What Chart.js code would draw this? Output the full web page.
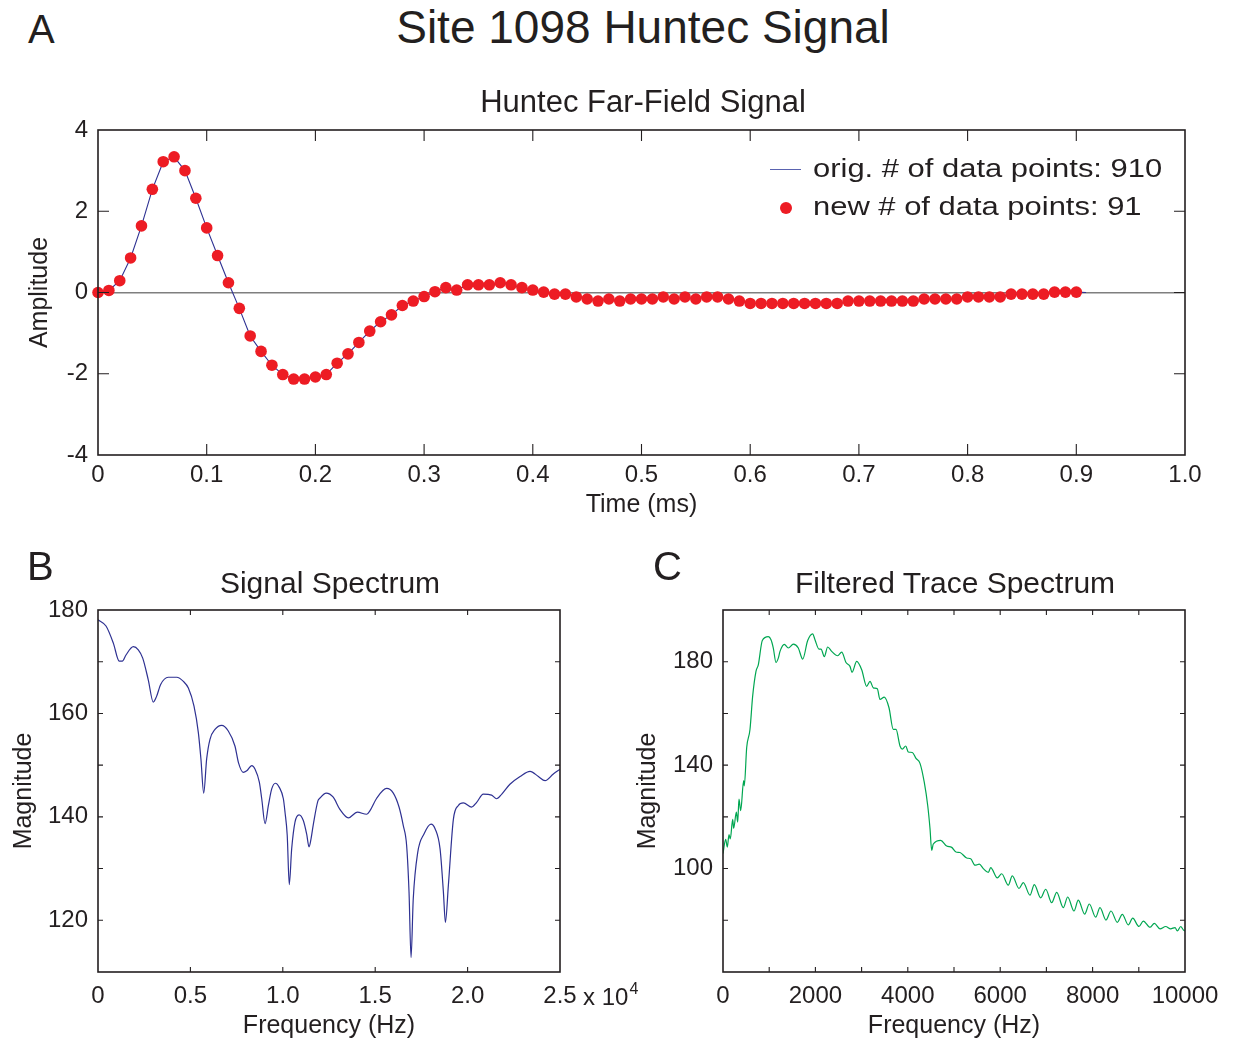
<!DOCTYPE html>
<html><head><meta charset="utf-8">
<script src="https://cdn.jsdelivr.net/npm/chart.js@4.4.0/dist/chart.umd.min.js"></script>
<style>
html,body{margin:0;padding:0;background:#fff;}
#wrap{position:relative;width:1233px;height:1046px;overflow:hidden;font-family:"Liberation Sans",Arial,sans-serif;color:#231f20;}
.t{position:absolute;white-space:nowrap;line-height:1;}
.box{position:absolute;}
</style></head><body>
<div id="wrap">
  <div class="box" style="left:0;top:100px;width:1233px;height:430px"><canvas id="chartA"></canvas></div>
  <div class="box" style="left:0;top:540px;width:660px;height:506px"><canvas id="chartB"></canvas></div>
  <div class="box" style="left:620px;top:540px;width:613px;height:506px"><canvas id="chartC"></canvas></div>
</div>
<script>
// ---------- DATA ----------
// Panel A: Huntec far-field signal (time in ms, amplitude)
const aTime = [0.00,0.01,0.02,0.03,0.04,0.05,0.06,0.07,0.08,0.09,
  0.10,0.11,0.12,0.13,0.14,0.15,0.16,0.17,0.18,0.19,
  0.20,0.21,0.22,0.23,0.24,0.25,0.26,0.27,0.28,0.29,
  0.30,0.31,0.32,0.33,0.34,0.35,0.36,0.37,0.38,0.39,
  0.40,0.41,0.42,0.43,0.44,0.45,0.46,0.47,0.48,0.49,
  0.50,0.51,0.52,0.53,0.54,0.55,0.56,0.57,0.58,0.59,
  0.60,0.61,0.62,0.63,0.64,0.65,0.66,0.67,0.68,0.69,
  0.70,0.71,0.72,0.73,0.74,0.75,0.76,0.77,0.78,0.79,
  0.80,0.81,0.82,0.83,0.84,0.85,0.86,0.87,0.88,0.89,0.90];
const aAmp = [0.00,0.05,0.29,0.85,1.64,2.54,3.22,3.34,3.00,2.32,
  1.59,0.91,0.24,-0.39,-1.07,-1.45,-1.79,-2.02,-2.13,-2.13,
  -2.08,-2.02,-1.74,-1.51,-1.23,-0.95,-0.72,-0.55,-0.32,-0.21,
  -0.10,0.02,0.12,0.06,0.19,0.19,0.19,0.24,0.19,0.12,
  0.06,0.01,-0.04,-0.04,-0.11,-0.16,-0.21,-0.16,-0.21,-0.16,
  -0.16,-0.16,-0.11,-0.16,-0.11,-0.16,-0.11,-0.11,-0.16,-0.21,
  -0.27,-0.27,-0.27,-0.27,-0.27,-0.27,-0.27,-0.27,-0.27,-0.21,
  -0.21,-0.21,-0.21,-0.21,-0.21,-0.21,-0.16,-0.16,-0.16,-0.16,
  -0.11,-0.11,-0.11,-0.11,-0.04,-0.04,-0.04,-0.04,0.01,0.01,0.01];
const aOrigEndTime = 0.909;
const aOrigEndAmp = 0.0;

// Panel B: signal spectrum (Hz, magnitude)
const bFreq = [0,433,830,1150,1315,1515,1910,2180,2420,2720,2990,3170,3390,3800,4260,4620,4890,5195,5430,5570,
  5720,5880,6060,6330,6690,7050,7410,7600,7860,8050,8320,8500,8730,8860,9040,9220,9400,9600,9810,10030,
  10120,10240,10350,10480,10660,10880,11110,11290,11420,11530,11650,11900,12000,12350,12730,13080,13550,14030,14540,14720,
  15080,15620,15980,16290,16520,16700,16830,16940,17060,17300,17640,18020,18240,18510,18690,18800,18960,19230,19500,19770,
  20220,20490,20850,21300,21570,21850,22290,22840,23380,23830,24190,24640,25000];
const bMag = [178.1,176.9,173.6,170.1,170.1,171.3,172.9,172.3,170.7,166.5,162.2,163.3,165.6,167.0,167.0,166.2,164.9,161.4,156.3,151.2,
  144.6,151.2,155.0,156.9,157.7,156.6,153.7,150.5,148.6,148.9,149.9,149.2,146.7,143.5,138.7,142.2,145.4,146.5,145.7,143.5,
  140.9,136.4,126.9,133.8,139.0,140.4,139.3,136.7,134.2,135.8,138.5,143.1,143.6,144.6,143.8,141.5,139.8,140.9,140.5,141.2,
  143.6,145.5,144.6,141.9,138.3,134.5,125.5,112.8,124.2,133.1,136.7,138.6,137.7,133.8,125.5,119.6,126.8,139.5,142.2,142.7,
  141.9,142.8,144.4,144.2,143.5,144.4,146.3,147.8,148.8,147.8,147.0,148.3,149.2];
const bXTickLabels = ["0","0.5","1.0","1.5","2.0","2.5"];
const bYTickLabels = [120,140,160,180];

// Panel C: filtered trace spectrum (Hz, magnitude)
const cFreq = [0,58,93,130,158,210,231,289,318,346,383,447,461,513,584,642,714,764,851,981,
  1039,1089,1147,1197,1234,1327,1414,1522,1630,1725,1833,1941,1991,2078,2121,2193,2266,2352,2482,2569,
  2662,2749,2792,2894,3002,3110,3182,3254,3340,3398,3491,3593,3686,3745,3831,3881,3954,4011,4097,4177,
  4264,4357,4431,4481,4517,4552,4712,4842,4950,5043,5130,5275,5361,5455,5548,5635,5743,5794,5937,6032,
  6175,6262,6407,6500,6645,6738,6877,6985,7115,7223,7366,7461,7597,7690,7829,7929,8067,8160,8290,8398,
  8535,8643,8773,8868,9004,9098,9242,9336,9459,9582,9690,9784,9834,9907,9963,10000];
const cMag = [105.8,111.3,108.3,113.1,111.5,119.0,115.6,121.8,118.0,126.9,122.4,134.0,132.0,146.8,153.8,166.7,176.3,178.8,188.2,189.7,
  188.5,185.3,179.7,181.4,184.0,186.7,185.3,186.8,185.3,181.0,188.2,190.8,188.5,184.9,184.9,182.0,185.7,184.0,182.3,183.7,
  179.7,178.2,175.9,180.1,176.9,170.5,172.4,169.9,169.5,165.4,166.3,162.2,153.8,153.8,147.4,146.2,147.4,145.1,144.9,142.6,
  140.7,133.3,124.4,115.4,107.0,109.5,110.9,108.7,108.2,106.4,106.2,104.1,103.8,101.3,101.7,100.0,98.5,100.4,96.4,98.0,
  93.6,97.2,92.3,94.6,89.7,93.8,88.7,92.0,86.8,90.8,84.9,89.0,83.6,87.8,82.4,86.3,81.2,84.9,80.1,83.6,
  79.2,82.3,78.2,80.8,77.6,79.7,77.3,78.8,76.7,77.6,76.7,77.2,75.9,77.6,76.3,75.9];
const cXTickLabels = [0,2000,4000,6000,8000,10000];
const cYTickLabels = [100,140,180];

// ---------- TEXT ----------
const wrap = document.getElementById('wrap');
function addText(txt, x, baseline, size, align, extra) {
  const d = document.createElement('div');
  d.className = 't';
  d.textContent = txt;
  d.style.fontSize = size + 'px';
  d.style.top = (baseline - 0.8465 * size) + 'px';
  d.style.left = x + 'px';
  if (align === 'center') d.style.transform = 'translateX(-50%)';
  if (extra) Object.assign(d.style, extra);
  wrap.appendChild(d);
  return d;
}
addText('Site 1098 Huntec Signal', 643, 43, 46, 'center');
addText('A', 28, 43, 40);
addText('Huntec Far-Field Signal', 643, 112, 31, 'center');
addText('B', 27, 580, 40);
addText('C', 653, 580, 40);
addText('Signal Spectrum', 330, 593, 30, 'center');
addText('Filtered Trace Spectrum', 955, 593, 30, 'center');
// legend of panel A
addText('orig. # of data points: 910', 813, 177, 26, 'left', {transform:'scaleX(1.19)', transformOrigin:'0 0'});
addText('new # of data points: 91', 813, 215, 26, 'left', {transform:'scaleX(1.19)', transformOrigin:'0 0'});
const ls = document.createElement('div');
Object.assign(ls.style, {position:'absolute', left:'770px', top:'169px', width:'31px', height:'1.3px', background:'#5a63b0'});
wrap.appendChild(ls);
const ld = document.createElement('div');
Object.assign(ld.style, {position:'absolute', left:'780px', top:'202px', width:'12px', height:'12px', borderRadius:'50%', background:'#ed1c24'});
wrap.appendChild(ld);
// exponent of panel B x axis
const ex = addText('x 10', 583, 1005, 24);
const sup = document.createElement('span');
sup.textContent = '4';
Object.assign(sup.style, {fontSize:'16px', position:'relative', top:'-11px', marginLeft:'1px'});
ex.appendChild(sup);

// ---------- CHARTS ----------
const INK = '#231f20';
const FONT = '"Liberation Sans", Arial, sans-serif';
Chart.defaults.font.family = FONT;
Chart.defaults.color = INK;

const frameTicks = {
  id: 'frameTicks',
  afterDatasetsDraw(chart, args, o) {
    const ctx = chart.ctx, a = chart.chartArea, xs = chart.scales.x, ys = chart.scales.y;
    ctx.save();
    ctx.strokeStyle = INK;
    ctx.lineWidth = o.tickWidth;
    ctx.beginPath();
    xs.ticks.forEach(t => {
      const p = xs.getPixelForValue(t.value);
      if (p <= a.left + 1 || p >= a.right - 1) return;
      ctx.moveTo(p, a.bottom); ctx.lineTo(p, a.bottom - o.len);
      ctx.moveTo(p, a.top); ctx.lineTo(p, a.top + o.len);
    });
    ys.ticks.forEach(t => {
      const p = ys.getPixelForValue(t.value);
      if (p <= a.top + 1 || p >= a.bottom - 1) return;
      ctx.moveTo(a.left, p); ctx.lineTo(a.left + o.len, p);
      ctx.moveTo(a.right, p); ctx.lineTo(a.right - o.len, p);
    });
    ctx.stroke();
    ctx.lineWidth = o.width;
    ctx.strokeRect(a.left, a.top, a.right - a.left, a.bottom - a.top);
    ctx.restore();
  }
};

function axisX(min, max, step, cb, height, labelPad, title, titlePad, gridColor) {
  return {
    type: 'linear', min, max,
    border: {display: false},
    grid: {drawTicks: false, color: gridColor || 'rgba(0,0,0,0)', lineWidth: 1.5},
    ticks: {stepSize: step, autoSkip: false, maxRotation: 0, padding: labelPad, font: {size: 24}, color: INK, callback: cb},
    title: {display: true, text: title, font: {size: 25}, color: INK, padding: {top: 0, bottom: titlePad}},
    afterFit(s) { s.height = height; }
  };
}
function axisY(min, max, step, cb, width, titlePad, title, gridColor) {
  return {
    type: 'linear', min, max,
    border: {display: false},
    grid: {drawTicks: false, color: gridColor || 'rgba(0,0,0,0)', lineWidth: 1.5},
    ticks: {stepSize: step, autoSkip: false, padding: 10, font: {size: 24}, color: INK, callback: cb},
    title: {display: true, text: title, font: {size: 25}, color: INK, padding: {top: titlePad, bottom: 0}},
    afterFit(s) { s.width = width; }
  };
}

const baseOpts = {
  responsive: true, maintainAspectRatio: false, animation: false,
  plugins: {legend: {display: false}, tooltip: {enabled: false}, title: {display: false}},
  events: []
};

// Panel A
const aDots = aTime.map((t, i) => ({x: t, y: aAmp[i]}));
const aLine = aDots.concat([{x: aOrigEndTime, y: aOrigEndAmp}]);
new Chart(document.getElementById('chartA'), {
  type: 'scatter',
  data: {datasets: [
    {label: 'new # of data points: 91', data: aDots, showLine: false, pointRadius: 5.8, pointBackgroundColor: '#ed1c24', pointBorderWidth: 0, clip: false},
    {label: 'orig. # of data points: 910', data: aLine, showLine: true, borderColor: '#2e3192', borderWidth: 1.1, pointRadius: 0, tension: 0}
  ]},
  options: Object.assign({}, baseOpts, {
    layout: {padding: {top: 30, right: 48, left: 0, bottom: 0}},
    plugins: Object.assign({}, baseOpts.plugins, {frameTicks: {len: 11, width: 1.6, tickWidth: 1.1}}),
    scales: {
      x: axisX(0, 1, 0.1, v => Math.abs(v) < 1e-9 ? '0' : v.toFixed(1), 75, 6, 'Time (ms)', 10),
      y: axisY(-4, 4, 2, v => String(v), 98, 25, 'Amplitude', ctx => ctx.tick && ctx.tick.value === 0 ? '#7f7f7f' : 'rgba(0,0,0,0)')
    }
  }),
  plugins: [frameTicks]
});

// Panel B
new Chart(document.getElementById('chartB'), {
  type: 'scatter',
  data: {datasets: [
    {label: 'Signal Spectrum', data: bFreq.map((f, i) => ({x: f, y: bMag[i]})), showLine: true, borderColor: '#2e3192', borderWidth: 1.2, pointRadius: 0, cubicInterpolationMode: 'monotone'}
  ]},
  options: Object.assign({}, baseOpts, {
    layout: {padding: {top: 70, right: 100, left: 0, bottom: 0}},
    plugins: Object.assign({}, baseOpts.plugins, {frameTicks: {len: 5, width: 1.6, tickWidth: 1.1}}),
    scales: {
      x: axisX(0, 25000, 5000, (v) => bXTickLabels[Math.round(v / 5000)] || '', 74, 10, 'Frequency (Hz)', 5),
      y: axisY(110, 180, 10, v => bYTickLabels.includes(v) ? String(v) : '', 98, 9, 'Magnitude')
    }
  }),
  plugins: [frameTicks]
});

// Panel C
new Chart(document.getElementById('chartC'), {
  type: 'scatter',
  data: {datasets: [
    {label: 'Filtered Trace Spectrum', data: cFreq.map((f, i) => ({x: f, y: cMag[i]})), showLine: true, borderColor: '#00a651', borderWidth: 1.2, pointRadius: 0, cubicInterpolationMode: 'monotone'}
  ]},
  options: Object.assign({}, baseOpts, {
    layout: {padding: {top: 70, right: 48, left: 0, bottom: 0}},
    plugins: Object.assign({}, baseOpts.plugins, {frameTicks: {len: 5, width: 1.6, tickWidth: 1.1}}),
    scales: {
      x: axisX(0, 10000, 1000, v => cXTickLabels.includes(v) ? String(v) : '', 74, 10, 'Frequency (Hz)', 5),
      y: axisY(60, 200, 20, v => cYTickLabels.includes(v) ? String(v) : '', 103, 13, 'Magnitude')
    }
  }),
  plugins: [frameTicks]
});
</script>
</body></html>
